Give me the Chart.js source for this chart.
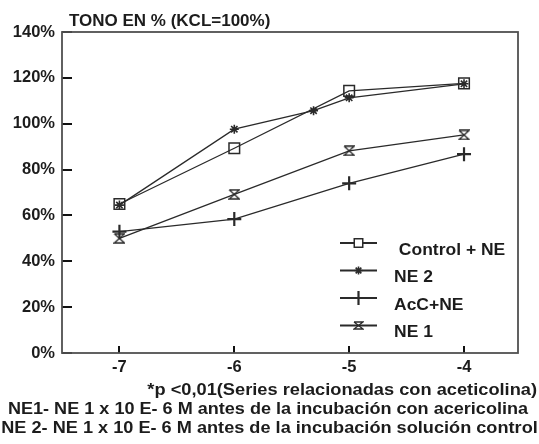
<!DOCTYPE html>
<html><head><meta charset="utf-8">
<script src="https://cdn.jsdelivr.net/npm/chart.js@4/dist/chart.umd.min.js"></script>
<style>html,body{margin:0;padding:0;background:#fff}#wrap{width:539px;height:444px;position:relative}</style>
</head><body><div id="wrap"><canvas id="c"></canvas></div>
<script>
const xTicks = [-7, -6, -5, -4];
const yTicks = [0, 20, 40, 60, 80, 100, 120, 140];
const controlX = [-7, -6, -5, -4];
const controlNE = [65.0, 89.3, 114.3, 117.6];
const ne2X = [-7, -6, -5.31, -5, -4];
const ne2 = [64.5, 97.6, 105.7, 111.3, 117.4];
const accX = [-7, -6, -5, -4];
const accNE = [52.9, 58.4, 74.0, 86.7];
const ne1X = [-7, -6, -5, -4];
const ne1 = [50.0, 69.2, 88.2, 95.1];
const seriesNames = [' Control + NE', 'NE 2', 'AcC+NE', 'NE 1'];
const chartTitle = 'TONO EN % (KCL=100%)';
const notes = [
  '*p <0,01(Series relacionadas con aceticolina)',
  'NE1- NE 1 x 10 E- 6 M antes de la incubación con acericolina',
  'NE 2- NE 1 x 10 E- 6 M antes de la incubación solución control'
];

const FONT = '"Liberation Sans", Arial, sans-serif';
const INK = '#1c1c1c';
const LINE = '#2a2a2a';

function hourglass(w, h) {
  const c = document.createElement('canvas');
  c.width = w; c.height = h;
  const g = c.getContext('2d');
  g.strokeStyle = LINE; g.lineWidth = 1.3;
  g.beginPath();
  g.moveTo(1, 1); g.lineTo(w - 1, 1);
  g.lineTo(1, h - 1); g.lineTo(w - 1, h - 1);
  g.lineTo(1, 1);
  g.stroke();
  return c;
}
const hgBig = hourglass(12, 11);
const hgSmall = hourglass(11, 9);

const pts = (xs, ys) => xs.map((x, i) => ({ x: x, y: ys[i] }));

const common = { borderColor: LINE, borderWidth: 1.3, pointBorderColor: LINE, pointBackgroundColor: 'rgba(0,0,0,0)', fill: false, tension: 0 };

const datasets = [
  Object.assign({}, common, { label: seriesNames[0], data: pts(controlX, controlNE), pointStyle: 'rect', pointRadius: 7.5, pointBorderWidth: 1.5, legendRadius: 6 }),
  Object.assign({}, common, { label: seriesNames[1], data: pts(ne2X, ne2), pointStyle: 'star', pointRadius: 4.5, pointBorderWidth: 1.6, legendRadius: 4 }),
  Object.assign({}, common, { label: seriesNames[2], data: pts(accX, accNE), pointStyle: 'cross', pointRadius: 7, pointBorderWidth: 2.2, legendRadius: 7 }),
  Object.assign({}, common, { label: seriesNames[3], data: pts(ne1X, ne1), pointStyle: hgBig, pointRadius: 6, pointBorderWidth: 1.3, legendStyle: hgSmall, legendRadius: 6 })
];

function stretchedText(ctx, text, x, y, align, sx) {
  ctx.save();
  ctx.translate(x, y);
  ctx.scale(sx, 1);
  ctx.textAlign = align;
  ctx.fillText(text, 0, 0);
  ctx.restore();
}

const framePlugin = {
  id: 'frame',
  beforeDatasetsDraw(chart) {
    const a = chart.chartArea, ctx = chart.ctx;
    ctx.save();
    ctx.strokeStyle = '#505050';
    ctx.lineWidth = 1.8;
    ctx.strokeRect(a.left, a.top, a.right - a.left, a.bottom - a.top);
    ctx.restore();
  }
};

const textPlugin = {
  id: 'texts',
  afterDraw(chart) {
    const ctx = chart.ctx, a = chart.chartArea;
    ctx.save();
    ctx.fillStyle = INK;
    ctx.textBaseline = 'middle';
    ctx.font = 'bold 16.5px ' + FONT;
    stretchedText(ctx, chartTitle, a.left + 7, 21, 'left', 1.03);
    ctx.font = 'bold 16.5px ' + FONT;
    stretchedText(ctx, notes[0], 537, 390, 'right', 1.105);
    stretchedText(ctx, notes[1], 268, 409, 'center', 1.095);
    stretchedText(ctx, notes[2], 269.5, 428, 'center', 1.1);
    ctx.restore();
  }
};

const legendPlugin = {
  id: 'innerLegend',
  afterDatasetsDraw(chart) {
    const ctx = chart.ctx, a = chart.chartArea;
    const x0 = a.left + 278, x1 = a.left + 315, tx = a.left + 332;
    const y0 = a.top + 211, dy = 27.5;
    ctx.save();
    chart.data.datasets.forEach((ds, i) => {
      const y = y0 + i * dy;
      ctx.strokeStyle = LINE;
      ctx.lineWidth = 1.8;
      ctx.beginPath(); ctx.moveTo(x0, y); ctx.lineTo(x1, y); ctx.stroke();
      ctx.lineWidth = ds.pointBorderWidth;
      ctx.fillStyle = '#fff';
      Chart.helpers.drawPoint(ctx, { pointStyle: ds.legendStyle || ds.pointStyle, radius: ds.legendRadius, borderWidth: ds.pointBorderWidth, rotation: 0 }, (x0 + x1) / 2, y);
      ctx.fillStyle = INK;
      ctx.font = 'bold 16.5px ' + FONT;
      ctx.textBaseline = 'middle';
      stretchedText(ctx, ds.label, tx, y + 7, 'left', 1.06);
    });
    ctx.restore();
  }
};

new Chart(document.getElementById('c'), {
  type: 'line',
  data: { datasets: datasets },
  plugins: [framePlugin, legendPlugin, textPlugin],
  options: {
    responsive: true,
    maintainAspectRatio: false,
    animation: false,
    events: [],
    layout: { padding: { top: 32, right: 21, bottom: 67, left: 0 } },
    plugins: { legend: { display: false }, title: { display: false }, tooltip: { enabled: false } },
    scales: {
      x: {
        type: 'linear', min: -7.5, max: -3.53,
        afterBuildTicks: s => { s.ticks = xTicks.map(v => ({ value: v })); },
        afterFit: s => { s.height = 24; },
        border: { display: false },
        grid: { drawOnChartArea: false, drawTicks: true, tickLength: -7, color: '#111', lineWidth: 2 },
        ticks: { color: INK, font: { family: FONT, size: 16.5, weight: 'bold' }, padding: 12, maxRotation: 0, callback: v => String(v) }
      },
      y: {
        type: 'linear', min: 0, max: 140,
        afterBuildTicks: s => { s.ticks = yTicks.map(v => ({ value: v })); },
        afterFit: s => { s.width = 62; },
        border: { display: false },
        grid: { drawOnChartArea: false, drawTicks: true, tickLength: -10, color: '#111', lineWidth: 2 },
        ticks: { color: INK, font: { family: FONT, size: 16.5, weight: 'bold' }, padding: 17, callback: v => v + '%' }
      }
    }
  }
});
</script>
</body></html>
